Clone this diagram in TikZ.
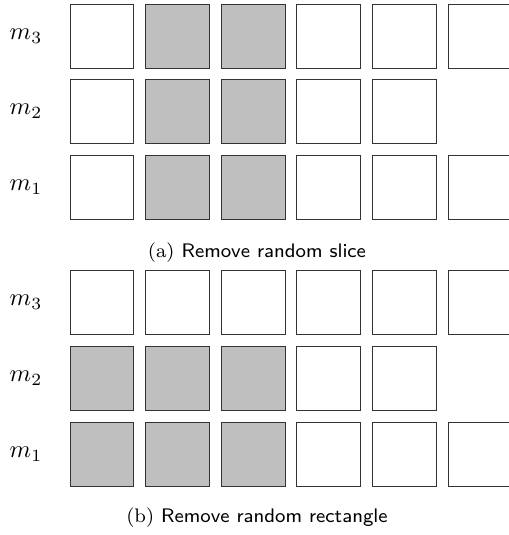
\documentclass[tikz,border=0pt]{standalone}
\usepackage{tikz}
\usetikzlibrary{positioning}

\begin{document}
\begin{tikzpicture}[x=0.408pt, y=-0.408pt,
  cell/.style={rectangle, draw=black!80, minimum size=26.1pt, inner sep=0pt},
  rowlab/.style={inner sep=0pt, font=\normalsize},
  captext/.style={inner sep=0pt, font=\footnotesize}
]
\clip (0,0) rectangle (509,535);
% (a) slice removed
\foreach \r/\y/\n in {3/36/6, 2/111.5/5, 1/187/6} {
  \node[rowlab] (la\r) at (26,\y) {$m_\r$};
  \foreach \c in {1,...,\n} {
    \def\shade{white}
    \ifnum\c>1 \ifnum\c<4 \def\shade{lightgray}\fi\fi
    \node[cell, fill=\shade] (a\r\c) at ({102+75.6*(\c-1)},\y) {};
  }
}
\node[captext] (capa) at (257,253) {(a)~\textsf{Remove random slice}};
% (b) rectangle removed
\foreach \r/\y/\n in {3/302.5/6, 2/378/5, 1/454/6} {
  \node[rowlab] (lb\r) at (26,\y) {$m_\r$};
  \foreach \c in {1,...,\n} {
    \def\shade{white}
    \ifnum\r<3 \ifnum\c<4 \def\shade{lightgray}\fi\fi
    \node[cell, fill=\shade] (b\r\c) at ({102+75.6*(\c-1)},\y) {};
  }
}
\node[captext] (capb) at (257,518) {(b)~\textsf{Remove random rectangle}};
\end{tikzpicture}
\end{document}
